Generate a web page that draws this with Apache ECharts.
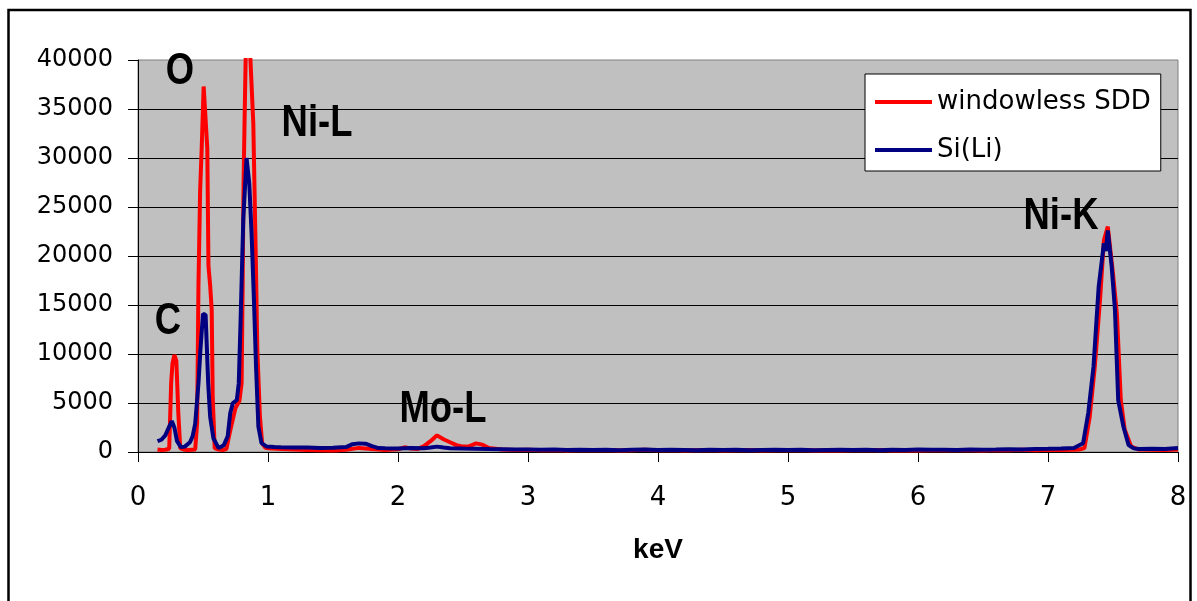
<!DOCTYPE html>
<html>
<head>
<meta charset="utf-8">
<script src="https://cdn.jsdelivr.net/npm/echarts@6/dist/echarts.min.js"></script>
<style>
html,body{margin:0;padding:0;background:#fff;}
#chart{width:1197px;height:601px;}
</style>
</head>
<body>
<div id="chart"></div>
<script>
// ---- Data ----
const seriesNames = ['windowless SDD', 'Si(Li)'];

const sddKeV = [0.15,0.18,0.21,0.24,0.255,0.265,0.28,0.295,0.31,0.325,0.35,0.38,0.41,0.44,0.455,0.465,0.478,0.49,0.505,0.52,0.533,0.542,0.555,0.567,0.575,0.59,0.62,0.65,0.68,0.70,0.72,0.75,0.78,0.797,0.805,0.812,0.82,0.83,0.86,0.887,0.905,0.918,0.938,0.955,0.98,
  1.0,1.1,1.2,1.3,1.4,1.5,1.6,1.7,1.8,1.9,2.0,2.05,2.1,2.15,2.2,2.25,2.3,2.35,2.4,2.45,2.5,2.55,2.6,2.65,2.7,2.8,2.9,3.0,
  3.1,3.2,3.3,3.4,3.5,3.6,3.7,3.8,3.9,4.0,4.1,4.2,4.3,4.4,4.5,4.6,4.7,4.8,4.9,5.0,5.1,5.2,5.3,5.4,5.5,5.6,5.7,5.8,5.9,6.0,
  6.1,6.2,6.3,6.4,6.5,6.6,6.7,6.8,6.9,7.0,7.1,7.2,7.24,7.28,7.32,7.36,7.40,7.43,7.46,7.50,7.53,7.56,7.59,7.64,7.70,7.8,7.9,8.0];
const sddCounts = [250,200,230,330,7000,9000,9900,9300,4000,400,250,200,230,260,3000,17000,26700,31000,37300,37300,31000,19000,17000,14500,5500,400,250,200,300,1600,2800,4500,5200,7000,17000,27400,34000,41500,41500,33500,20600,10400,3600,900,420,
  380,300,250,200,180,150,220,420,300,200,280,480,350,300,600,1100,1700,1300,1000,700,550,600,880,750,400,250,200,230,
  180,200,150,210,170,200,160,190,220,170,200,150,190,210,160,180,200,150,190,170,200,160,180,150,190,170,200,160,180,150,
  190,170,210,180,160,200,180,220,190,230,200,220,250,400,3500,8700,15500,21600,23000,18200,14100,5300,2300,550,250,220,200,250];

const siliKeV = [0.15,0.18,0.21,0.24,0.26,0.28,0.30,0.33,0.36,0.40,0.42,0.44,0.465,0.48,0.50,0.52,0.54,0.555,0.58,0.62,0.66,0.69,0.71,0.73,0.76,0.775,0.79,0.81,0.835,0.856,0.874,0.892,0.908,0.926,0.95,0.99,
  1.05,1.1,1.2,1.3,1.4,1.5,1.6,1.65,1.7,1.75,1.8,1.85,1.9,2.0,2.1,2.2,2.25,2.3,2.35,2.4,2.5,2.6,2.7,2.8,2.9,3.0,
  3.1,3.2,3.3,3.4,3.5,3.6,3.7,3.8,3.9,4.0,4.1,4.2,4.3,4.4,4.5,4.6,4.7,4.8,4.9,5.0,5.1,5.2,5.3,5.4,5.5,5.6,5.7,5.8,5.9,6.0,
  6.1,6.2,6.3,6.4,6.5,6.6,6.7,6.8,6.9,7.0,7.1,7.2,7.27,7.31,7.35,7.39,7.43,7.445,7.46,7.49,7.515,7.54,7.58,7.62,7.66,7.7,7.8,7.9,8.0];
const siliCounts = [1100,1250,1700,2600,3150,2500,1100,500,550,1000,1600,2900,7000,10400,14100,14000,7000,3600,1400,400,700,1600,4000,5000,5300,7000,13800,23800,30000,27400,22200,15500,8700,2600,900,550,
  500,480,450,470,420,440,500,800,880,850,600,400,380,350,400,380,450,550,450,380,350,330,300,280,260,250,
  230,250,200,240,210,230,190,220,250,200,230,210,180,220,200,240,190,210,230,200,220,180,210,240,200,220,190,230,210,250,
  220,240,200,260,230,250,280,260,300,320,350,400,900,4000,8700,16900,21300,20500,22600,18900,14500,5300,2600,700,370,300,320,300,400];

const yTickStep = 5000;
const annotations = [
  {text: 'O',    x: 180,  y: 72},
  {text: 'Ni-L', x: 317,  y: 124},
  {text: 'C',    x: 168,  y: 322},
  {text: 'Mo-L', x: 443,  y: 410},
  {text: 'Ni-K', x: 1061, y: 217}
];

// ---- Chart ----
const chart = echarts.init(document.getElementById('chart'));
const pairs = (xs, ys) => xs.map((x, i) => [x, ys[i]]);

const option = {
  animation: false,
  backgroundColor: '#ffffff',
  grid: {
    left: 138, right: 19, top: 60, bottom: 149,
    show: true, backgroundColor: '#C0C0C0', borderColor: '#808080', borderWidth: 1
  },
  legend: {
    orient: 'vertical',
    left: 865, top: 74,
    padding: [13, 10, 6, 10],
    itemGap: 18,
    itemWidth: 57, itemHeight: 4,
    icon: 'rect',
    backgroundColor: '#ffffff',
    borderColor: '#000000', borderWidth: 1,
    textStyle: {fontFamily: 'DejaVu Sans', fontSize: 26, color: '#000', lineHeight: 30},
    data: seriesNames
  },
  xAxis: {
    type: 'value', min: 0, max: 8, interval: 1,
    axisLine: {show: true, lineStyle: {color: '#000', width: 1}},
    axisTick: {show: true, inside: false, length: 10, lineStyle: {color: '#000'}},
    axisLabel: {fontFamily: 'DejaVu Sans', fontSize: 26, color: '#000', margin: 33,
                formatter: v => String(v)},
    splitLine: {show: false},
    name: 'keV', nameLocation: 'middle', nameGap: 84,
    nameTextStyle: {fontFamily: 'Liberation Sans', fontWeight: 'bold', fontSize: 28, color: '#000'}
  },
  yAxis: {
    type: 'value', min: 0, max: 40000, interval: yTickStep,
    axisLine: {show: true, lineStyle: {color: '#000', width: 1}},
    axisTick: {show: true, inside: false, length: 10, lineStyle: {color: '#000'}},
    axisLabel: {fontFamily: 'DejaVu Sans', fontSize: 24, color: '#000', margin: 25,
                formatter: v => String(v)},
    splitLine: {show: true, showMaxLine: false, lineStyle: {color: '#000', width: 1}}
  },
  series: [
    {
      name: seriesNames[0], type: 'line', data: pairs(sddKeV, sddCounts),
      showSymbol: false, symbol: 'none', clip: true,
      lineStyle: {color: '#FF0000', width: 4}, itemStyle: {color: '#FF0000'}, z: 2
    },
    {
      name: seriesNames[1], type: 'line', data: pairs(siliKeV, siliCounts),
      showSymbol: false, symbol: 'none', clip: true,
      lineStyle: {color: '#000080', width: 4}, itemStyle: {color: '#000080'}, z: 3
    }
  ],
  graphic: [
    {type: 'rect', shape: {x: 8.5, y: 10, width: 1182, height: 640},
     style: {fill: 'none', stroke: '#000', lineWidth: 2.5}, z: 100, silent: true}
  ].concat(annotations.map(a => ({
    type: 'text', x: a.x, y: a.y, scaleX: 0.81, z: 100, silent: true,
    style: {text: a.text, font: 'bold 45px "Liberation Sans"', fill: '#000',
            textAlign: 'center', textVerticalAlign: 'middle'}
  })))
};
chart.setOption(option);
</script>
</body>
</html>
